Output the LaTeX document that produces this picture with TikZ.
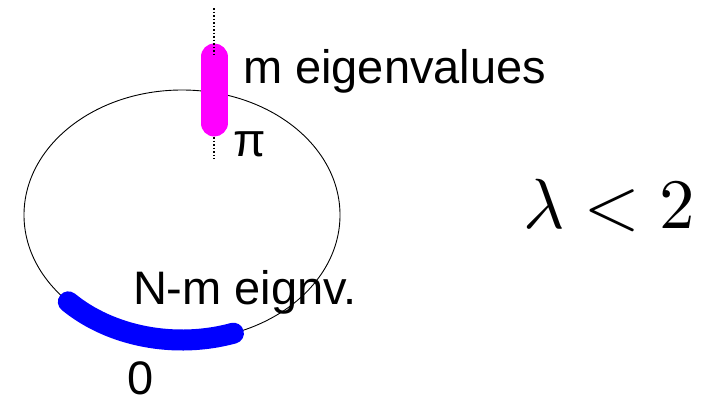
\documentclass[tikz,border=0pt]{standalone}
\usepackage{fontspec}
\setmainfont{Liberation Sans}
\usepackage{unicode-math}
\setmathfont{Latin Modern Math}
\usetikzlibrary{calc}
\begin{document}
\begin{tikzpicture}[x=1pt,y=-1pt,
  lbl/.style={inner sep=0pt,outer sep=0pt,anchor=base west,font=\fontsize{47}{52}\selectfont},
  ring/.style={draw=black,line width=0.9pt},
  axis/.style={draw=black,line width=1.3pt,dash pattern=on 1.5pt off 2pt},
  piband/.style={draw={rgb,255:red,255;green,0;blue,255},line width=27pt,line cap=round},
  zeroband/.style={draw={rgb,255:red,0;green,0;blue,255},line width=21pt,line cap=round}]
\useasboundingbox (0,0) rectangle (720,400);
\coordinate (c) at (182,215);
\coordinate (axtop) at (214,8);
\coordinate (axa) at (214,55);
\coordinate (axb) at (214,137);
\coordinate (axbot) at (214,159);
\coordinate (pitop) at (214,57);
\coordinate (pibot) at (214,123);
% circle of eigenvalues
\draw[ring] (c) ellipse [x radius=158, y radius=125];
% band at pi
\draw[piband] (pitop) -- (pibot);
\draw[axis] (axtop) -- (axa);
\draw[axis] (axb) -- (axbot);
% band at 0
\draw[zeroband] ($(c)+(136:158 and 125)$) arc [start angle=136, end angle=71, x radius=158, y radius=125];
% labels
\node[lbl] (meig) at (243,83) {m eigenvalues};
\node[lbl] (pi) at (233,156) {π};
\node[lbl] (nmeig) at (133,304) {N-m eignv.};
\node[lbl] (zero) at (127,394) {0};
\node[inner sep=0pt,outer sep=0pt,anchor=base west,font=\fontsize{71}{78}\selectfont] (lam) at (523,228) {$\lambda < 2$};
\end{tikzpicture}
\end{document}
